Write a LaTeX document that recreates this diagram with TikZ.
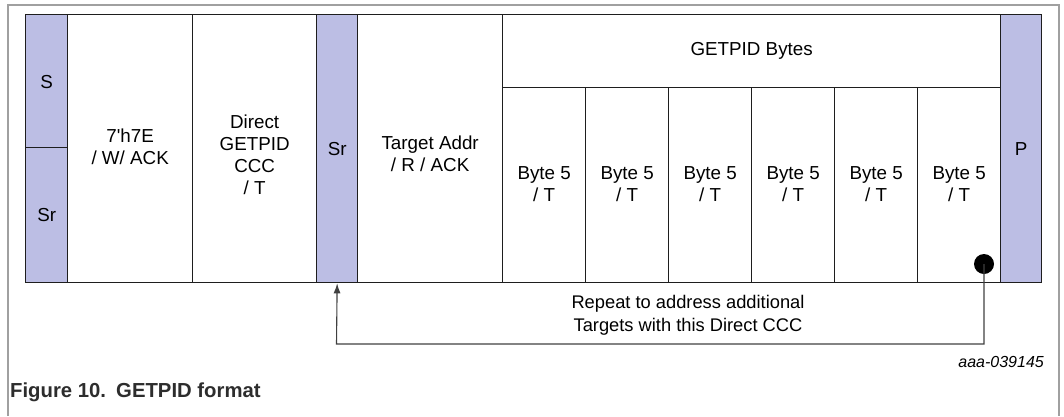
\documentclass[tikz,border=0pt]{standalone}
\usepackage{fontspec}
\newfontfamily\arial{Liberation Sans}
\usetikzlibrary{arrows.meta}
\definecolor{lav}{RGB}{188,190,228}
\definecolor{boxline}{RGB}{30,30,30}
\definecolor{framegray}{RGB}{160,160,160}
\definecolor{capgray}{RGB}{45,45,45}
\tikzset{
  cell/.style={draw=boxline, line width=1.3pt, inner sep=0pt, anchor=north west},
  mark cell/.style={cell, fill=lav},
  txt/.style={inner sep=0pt, align=center, font=\arial\fontsize{18.8}{22}\selectfont},
  conn/.style={draw=boxline!85, line width=1.1pt},
  note/.style={font=\arial\fontsize{18.3}{23}\selectfont, align=center, inner sep=0pt},
}
\begin{document}
\begin{tikzpicture}[x=1pt, y=-1pt]
\useasboundingbox (0,0) rectangle (1064,416);
% outer frame (open at bottom)
\draw[framegray, line width=1.5pt] (8,416) -- (8,5) -- (1059,5) -- (1059,416);
% cells
\node[mark cell, minimum width=42pt, minimum height=133pt] (s) at (25,14) {};
\node[mark cell, minimum width=42pt, minimum height=135pt] (sr1) at (25,147) {};
\node[cell, minimum width=125pt, minimum height=268pt] (addr) at (67,14) {};
\node[cell, minimum width=124pt, minimum height=268pt] (ccc) at (192,14) {};
\node[mark cell, minimum width=41pt, minimum height=268pt] (sr2) at (316,14) {};
\node[cell, minimum width=145pt, minimum height=268pt] (tgt) at (357,14) {};
\node[cell, minimum width=498pt, minimum height=73pt] (hdr) at (502,14) {};
\node[cell, minimum width=83pt, minimum height=195pt] (b1) at (502,87) {};
\node[cell, minimum width=83pt, minimum height=195pt] (b2) at (585,87) {};
\node[cell, minimum width=83pt, minimum height=195pt] (b3) at (668,87) {};
\node[cell, minimum width=83pt, minimum height=195pt] (b4) at (751,87) {};
\node[cell, minimum width=83pt, minimum height=195pt] (b5) at (834,87) {};
\node[cell, minimum width=83pt, minimum height=195pt] (b6) at (917,87) {};
\node[mark cell, minimum width=41pt, minimum height=268pt] (p) at (1000,14) {};
% cell texts
\node[txt] (s-t) at ([yshift=-1pt]s.center) {S};
\node[txt] (sr1-t) at (sr1.center) {Sr};
\node[txt] (addr-t) at ([yshift=2pt]addr.center) {7'h7E\\/ W/ ACK};
\node[txt] (ccc-t) at ([yshift=-6.5pt]ccc.center) {Direct\\GETPID\\CCC\\/ T};
\node[txt] (sr2-t) at (sr2.center) {Sr};
\node[txt] (tgt-t) at ([yshift=-5.5pt]tgt.center) {Target Addr\\/ R / ACK};
\node[txt] (hdr-t) at (hdr.center) {GETPID Bytes};
\foreach \b in {b1,b2,b3,b4,b5,b6}
  \node[txt] (\b-t) at ([yshift=1.5pt]\b.center) {Byte 5\\/ T};
\node[txt] (p-t) at (p.center) {P};
% repeat loop
\node[circle, fill=black, inner sep=0pt, minimum size=20pt] (dot) at (984,264) {};
\coordinate (turn) at (336.5,344);
\draw[conn, -{Latex[length=10pt,width=7pt]}] (dot.center) |- (turn) -- (sr2.south);
\node[note] (rep) at (688,315) {Repeat to address additional\\Targets with this Direct CCC};
% figure id and caption
\node[anchor=east, inner sep=0pt, font=\arial\itshape\fontsize{16}{18}\selectfont] (fid) at (1044,362) {aaa-039145};
\node[anchor=west, inner sep=0pt, text=capgray, font=\arial\bfseries\fontsize{20.3}{24}\selectfont] (cap) at (10,392) {Figure 10.\hspace{0.5em}GETPID format};
\end{tikzpicture}
\end{document}
